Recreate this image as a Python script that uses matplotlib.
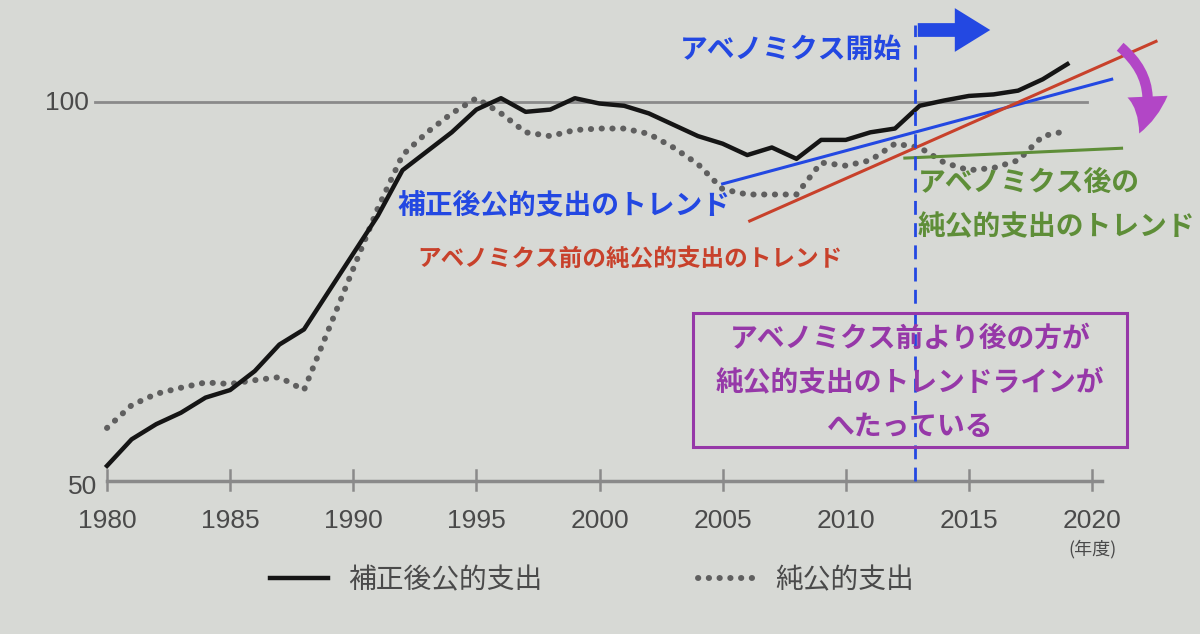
import numpy as np
import matplotlib
matplotlib.use('Agg')
from matplotlib import pyplot as plt
from matplotlib.patches import FancyArrowPatch, Rectangle

# Data --------------------------------------------

years = np.arange(1980, 2020, 1)
# 補正後公的支出 (index, peak ~100)
adjusted = [52.0, 55.5, 57.5, 59.0, 61.0, 62.0, 64.5, 68.0, 70.0, 75.0,
            80.0, 85.0, 91.0, 93.5, 96.0, 99.0, 100.5, 98.7, 99.0, 100.5,
            99.8, 99.5, 98.5, 97.0, 95.5, 94.5, 93.0, 94.0, 92.5, 95.0,
            95.0, 96.0, 96.5, 99.5, 100.2, 100.8, 101.0, 101.5, 103.0, 105.0]
# 純公的支出
net = [57.0, 60.0, 61.5, 62.3, 63.0, 62.8, 63.3, 63.7, 62.0, 70.0,
       78.0, 86.0, 93.0, 96.0, 98.5, 100.5, 98.5, 96.0, 95.5, 96.3,
       96.5, 96.5, 95.8, 94.0, 91.8, 88.5, 87.8, 87.8, 87.8, 92.0,
       91.6, 92.3, 94.5, 94.0, 92.0, 91.0, 91.3, 92.3, 95.5, 96.2]

xticks = [1980, 1985, 1990, 1995, 2000, 2005, 2010, 2015, 2020]
yticks = [50, 100]

# hand drawn trend lines: (start year, start value, end year, end value)
trendAdjusted = [2005.0, 89.2, 2020.8, 103.0]
trendNetBefore = [2006.1, 84.3, 2022.6, 108.0]
trendNetAfter = [2012.4, 92.6, 2021.2, 93.9]
abenomicsStart = 2012.8

# Presets --------------------------------------------

W, H = 1200, 634
bgColor = '#d7d9d5'
axisGray = '#8a8a8a'
textGray = '#4a4a4a'
blue = '#2348e2'
red = '#c8412b'
green = '#5e8e38'
purple = '#9638a8'
magenta = '#b246c6'
jp = ['Noto Sans CJK JP', 'DejaVu Sans']

# Function to turn pixel position (from top-left) into figure fraction
def px(x, y):
    return (x / W, 1 - y / H)

# Plot --------------------------------------------

fig = plt.figure(figsize=(W / 100, H / 100), dpi=100, facecolor=bgColor)
ax = fig.add_axes([0, 0, 1, 1])
ax.set_facecolor(bgColor)
ax.axis('off')
# map data to pixels: 1980 -> x107, 2020 -> x1092, 100 -> y102, 50 -> y481
ax.set_xlim(1980 - 107 / 24.625, 1980 + (W - 107) / 24.625)
ax.set_ylim(100 - (H - 102) / 7.58, 100 + 102 / 7.58)

# 100 reference line and base axis
ax.plot([1979.5, 2019.8], [100, 100], color=axisGray, lw=2, zorder=1)
ax.plot([1980, 2020.4], [50, 50], color=axisGray, lw=2.5, zorder=1)
for t in xticks:
    ax.plot([t, t], [48.8, 51.4], color=axisGray, lw=1.8, zorder=1)
    ax.text(t, 46.3, str(t), ha='center', va='top', fontsize=19,
            family='Liberation Sans', color=textGray)
ax.text(2020, 42.2, '(年度)', ha='center', va='top', fontsize=13,
        family=jp, color=textGray)
fig.text(*px(89, 103), '100', ha='right', va='center', fontsize=19,
         family='Liberation Sans', color=textGray)
fig.text(*px(97, 487), '50', ha='right', va='center', fontsize=19,
         family='Liberation Sans', color=textGray)

# data lines
lnAdj, = ax.plot(years, adjusted, color='#151515', lw=3.2, zorder=4,
                 solid_joinstyle='round', label='補正後公的支出')
lnNet, = ax.plot(years, net, color='#5f5f5f', lw=4.3, zorder=3,
                 linestyle=(0, (0.05, 1.75)), dash_capstyle='round',
                 label='純公的支出')

# trend lines
for tr, col in [(trendAdjusted, blue), (trendNetBefore, red), (trendNetAfter, green)]:
    ax.plot([tr[0], tr[2]], [tr[1], tr[3]], color=col, lw=2.2, zorder=5)

# Abenomics start marker
ax.plot([abenomicsStart, abenomicsStart], [50, 110.2], color=blue, lw=2,
        linestyle=(0, (5, 3)), zorder=6)

# blue arrow at the top
fig.patches.append(FancyArrowPatch(px(915, 30), px(993, 30), transform=fig.transFigure,
                                   arrowstyle='simple,head_length=0.85,head_width=1.05,tail_width=0.33',
                                   mutation_scale=30, color=blue, lw=0))
# magenta curved arrow
fig.patches.append(FancyArrowPatch(px(1118, 45), px(1138, 136), transform=fig.transFigure,
                                   connectionstyle='arc3,rad=-0.4',
                                   arrowstyle='simple,head_length=0.8,head_width=0.85,tail_width=0.22',
                                   mutation_scale=34, color=magenta, lw=0))

# annotation texts
fig.text(*px(680, 50), 'アベノミクス開始', ha='left', va='center', fontsize=20,
         family=jp, weight='bold', color=blue)
fig.text(*px(398, 205), '補正後公的支出のトレンド', ha='left', va='center', fontsize=20,
         family=jp, weight='bold', color=blue)
fig.text(*px(417, 259), 'アベノミクス前の純公的支出のトレンド', ha='left', va='center',
         fontsize=17, family=jp, weight='bold', color=red)
fig.text(*px(918, 183), 'アベノミクス後の', ha='left', va='center', fontsize=20,
         family=jp, weight='bold', color=green)
fig.text(*px(918, 227), '純公的支出のトレンド', ha='left', va='center', fontsize=20,
         family=jp, weight='bold', color=green)

# purple box with message
fig.patches.append(Rectangle(px(693, 447), (1127 - 693) / W, (447 - 313) / H,
                             transform=fig.transFigure, fill=False,
                             edgecolor=purple, lw=2.2, zorder=7))
boxLines = ['アベノミクス前より後の方が', '純公的支出のトレンドラインが', 'へたっている']
for i, s in enumerate(boxLines):
    fig.text(*px(910, 339 + 44 * i), s, ha='center', va='center', fontsize=20,
             family=jp, weight='bold', color=purple)

# legend
leg = ax.legend(handles=[lnAdj, lnNet], loc='center', bbox_to_anchor=px(592, 580),
                bbox_transform=fig.transFigure, ncol=2, frameon=False,
                handlelength=2.1, columnspacing=5.6, handletextpad=0.7,
                prop={'family': jp, 'size': 20})
for t in leg.get_texts():
    t.set_color(textGray)

plt.savefig('out.png', dpi=100, facecolor=bgColor)
